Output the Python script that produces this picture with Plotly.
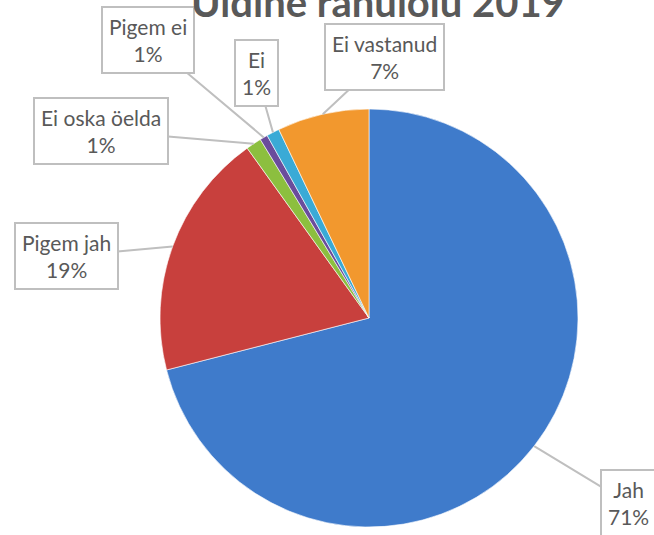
import math
import plotly.graph_objects as go

labels = ["Jah", "Pigem jah", "Ei oska öelda", "Pigem ei", "Ei", "Ei vastanud"]
values = [71.0, 19.1, 1.2, 0.6, 1.0, 7.1]
colors = ["#3F7BCB", "#C8403D", "#8CBF3F", "#6A4C9C", "#3AAAD6", "#F2982E"]
title_text = "Üldine rahulolu 2019"

W, H = 654, 535
cx, cy, R = 369, 318, 209  # pie center and radius in pixels

# callout box centres (pixels from top-left)
box_centres = {
    "Jah": (628, 503),
    "Pigem jah": (66, 256),
    "Ei oska öelda": (101, 131),
    "Pigem ei": (148, 40),
    "Ei": (256, 73),
    "Ei vastanud": (384, 57),
}

fig = go.Figure()
fig.add_trace(go.Pie(
    labels=labels, values=values, sort=False, direction="clockwise", rotation=0,
    marker=dict(colors=colors, line=dict(color="rgba(255,255,255,0.6)", width=1)),
    textinfo="none", hoverinfo="label+percent", showlegend=False,
    domain=dict(x=[(cx - R) / W, (cx + R) / W], y=[(H - cy - R) / H, (H - cy + R) / H]),
))

total = sum(values)
cum = 0.0
annotations = []
for lab, v in zip(labels, values):
    mid = (cum + v / 2) / total * 2 * math.pi
    cum += v
    tx = cx + R * math.sin(mid)
    ty = cy - R * math.cos(mid)
    bx, by = box_centres[lab]
    pct = round(v / total * 100)
    annotations.append(dict(
        x=tx / W, y=1 - ty / H, xref="paper", yref="paper",
        ax=bx - tx, ay=by - ty, axref="pixel", ayref="pixel",
        text=f"{lab}<br>{pct}%", showarrow=True, arrowhead=0, arrowwidth=2,
        arrowcolor="#BFBFBF", standoff=0,
        font=dict(family="Lato, Carlito, sans-serif", size=21, color="#595959"),
        bgcolor="white", bordercolor="#BFBFBF", borderwidth=2, borderpad=6,
        align="center",
    ))

annotations.append(dict(
    x=(cx + 9) / W, y=1 - 28 / H, xref="paper", yref="paper",
    xanchor="center", yanchor="bottom", showarrow=False,
    text=f"<b>{title_text}</b>",
    font=dict(family="Lato, Carlito, sans-serif", size=40, color="#595959"),
))

fig.update_layout(
    width=W, height=H, margin=dict(l=0, r=0, t=0, b=0),
    paper_bgcolor="white", plot_bgcolor="white",
    annotations=annotations,
)
fig.write_html("out.html", config={"displayModeBar": False},
               post_script="document.body.style.margin='0';")
